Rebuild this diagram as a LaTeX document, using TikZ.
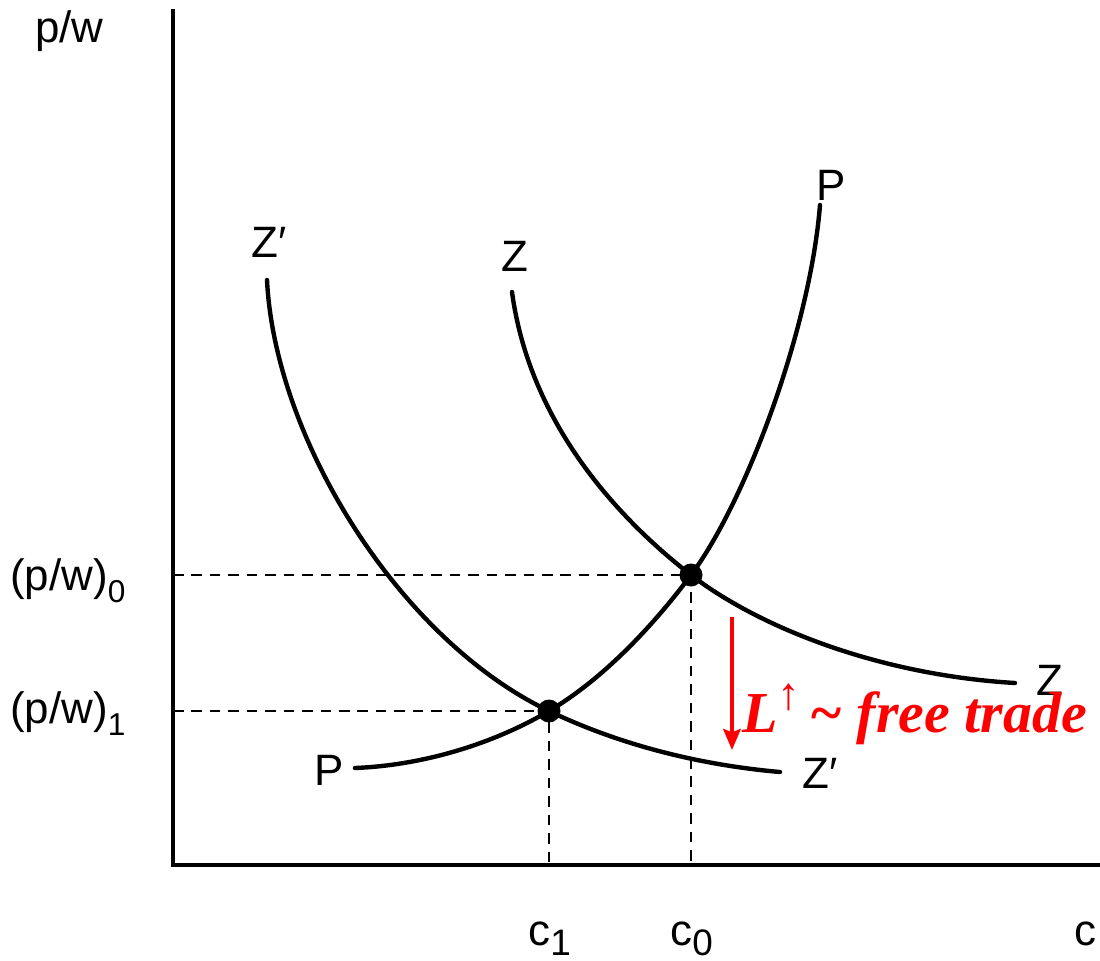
\documentclass[tikz,border=0pt]{standalone}
\usepackage{fontspec}
\setmainfont{Liberation Sans}
\newfontfamily\redfont{Liberation Serif}
\usetikzlibrary{arrows.meta}
\newcommand\pwsub[1]{\raisebox{-7pt}{\fontsize{18}{18}\selectfont #1}}
\newcommand\csub[1]{\raisebox{-6pt}{\fontsize{21}{21}\selectfont #1}}
\begin{document}
\begin{tikzpicture}[x=0.02cm,y=-0.02cm,
  curve/.style={line width=2.5pt, line cap=round},
  axis/.style={line width=2pt},
  guide/.style={line width=1.2pt, dash pattern=on 6pt off 4.5pt},
  lab/.style={inner sep=0pt, anchor=base west, font=\fontsize{25}{25}\selectfont},
  eqdot/.style={circle, fill=black, inner sep=0pt, minimum size=0.46cm},
  redarrow/.style={red, line width=2.1pt, -{Stealth[length=12pt,width=10pt,inset=2pt]}},
  redlab/.style={inner sep=0pt, anchor=base west, text=red, font=\redfont\fontsize{33}{33}\selectfont\bfseries\itshape}]
\useasboundingbox (0,0) rectangle (1100,961);
% axes
\coordinate (O) at (173,865);
\coordinate (ytop) at (173,9);
\coordinate (xend) at (1100,865);
\draw[axis] (ytop) -- (O) -- (xend);
% equilibrium points
\coordinate (A) at (691,575);
\coordinate (B) at (549,711);
\coordinate (Ay) at (173,575);
\coordinate (Ax) at (691,865);
\coordinate (By) at (173,711);
\coordinate (Bx) at (549,865);
\draw[guide] (Ay) -- (A) -- (Ax);
\draw[guide] (By) -- (B) -- (Bx);
% Z curve
\coordinate (Zs) at (512,292);
\coordinate (Ze) at (1015,683);
\draw[curve] (Zs) .. controls (530,425) and (620,520) .. (A)
  .. controls (760,628) and (880,675) .. (Ze);
% Z' curve
\coordinate (Zps) at (267,280);
\coordinate (Zpe) at (780,772);
\draw[curve] (Zps) .. controls (275,440) and (400,640) .. (B)
  .. controls (620,745) and (700,765) .. (Zpe);
% P curve
\coordinate (Ps) at (355,768);
\coordinate (Pe) at (820,205);
\draw[curve] (Ps) .. controls (430,765) and (500,740) .. (B)
  .. controls (600,681) and (650,630) .. (A)
  .. controls (745,503) and (810,330) .. (Pe);
\node[eqdot] (dA) at (A) {};
\node[eqdot] (dB) at (B) {};
% labels
\node[lab] (lpw) at (35,42) {p/w};
\node[lab] (lpw0) at (10,590) {(p/w)\pwsub{0}};
\node[lab] (lpw1) at (10,723) {(p/w)\pwsub{1}};
\node[lab] (lPt) at (816,200) {P};
\node[lab] (lZt) at (501,271) {Z};
\node[lab] (lZpt) at (251,257) {Z′};
\node[lab] (lPb) at (314,785) {P};
\node[lab] (lZr) at (1036,695) {Z};
\node[lab] (lZpb) at (802,788) {Z′};
\node[lab] (lc1) at (528,945) {c\csub{1}};
\node[lab] (lc0) at (670,945) {c\csub{0}};
\node[lab] (lc) at (1074,945) {c};
% red shift arrow and text
\coordinate (ra1) at (732,617);
\coordinate (ra2) at (732,750);
\draw[redarrow] (ra1) -- (ra2);
\node[redlab] (ltrade) at (742,732) {L\raisebox{13pt}{\mdseries\upshape\fontsize{26}{26}\selectfont ↑}\hspace{5pt}\textasciitilde\ free trade};
\end{tikzpicture}
\end{document}
